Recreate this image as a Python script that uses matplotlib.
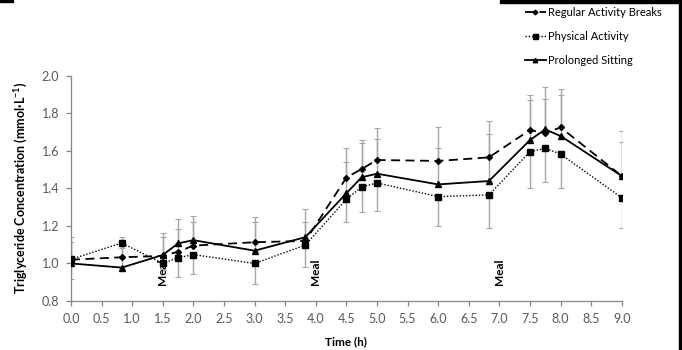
import matplotlib
matplotlib.use("Agg")
import matplotlib.pyplot as plt
from matplotlib.patches import Rectangle

plt.rcParams['font.family'] = ['Lato', 'DejaVu Sans']
plt.rcParams['mathtext.default'] = 'regular'

time = [0.0, 0.83, 1.5, 1.75, 2.0, 3.0, 3.83, 4.5, 4.75, 5.0, 6.0, 6.83, 7.5, 7.75, 8.0, 9.0]

rab = [1.02, 1.033, 1.04, 1.063, 1.095, 1.113, 1.12, 1.457, 1.503, 1.551, 1.546, 1.565, 1.711, 1.693, 1.725, 1.466]
rab_up = [1.143, 1.14, 1.16, 1.185, 1.22, 1.249, 1.289, 1.613, 1.658, 1.723, 1.728, 1.759, 1.897, 1.876, 1.928, 1.707]

pa = [1.022, 1.109, 1.0, 1.031, 1.047, 1.0, 1.098, 1.342, 1.407, 1.429, 1.356, 1.365, 1.595, 1.613, 1.583, 1.35]
pa_low = [0.919, 1.08, 0.97, 0.93, 0.942, 0.892, 0.98, 1.223, 1.273, 1.28, 1.201, 1.19, 1.404, 1.432, 1.404, 1.19]

ps = [1.0, 0.978, 1.045, 1.107, 1.124, 1.068, 1.14, 1.374, 1.459, 1.478, 1.421, 1.439, 1.657, 1.714, 1.679, 1.466]
ps_up = [1.114, 1.125, 1.14, 1.235, 1.255, 1.219, 1.223, 1.539, 1.64, 1.663, 1.616, 1.688, 1.871, 1.938, 1.897, 1.647]

meal_x = [1.5, 4.0, 7.0]
labels = ['Regular Activity Breaks', 'Physical Activity', 'Prolonged Sitting']

fig = plt.figure(figsize=(6.82, 3.5), dpi=100)
ax = fig.add_axes([0.1041, 0.14, 0.8075, 0.6437])

ecol = '#a6a6a6'
ax.errorbar(time, rab, yerr=[[0]*len(rab), [u - v for u, v in zip(rab_up, rab)]],
            fmt='none', ecolor=ecol, elinewidth=1, capsize=2.2, capthick=0.8, zorder=1)
ax.errorbar(time, ps, yerr=[[0]*len(ps), [u - v for u, v in zip(ps_up, ps)]],
            fmt='none', ecolor=ecol, elinewidth=1, capsize=2.2, capthick=0.8, zorder=1)
ax.errorbar(time, pa, yerr=[[v - l for v, l in zip(pa, pa_low)], [0]*len(pa)],
            fmt='none', ecolor=ecol, elinewidth=1, capsize=2.2, capthick=0.8, zorder=1)

l1, = ax.plot(time, rab, color='black', lw=1.3, dashes=(5, 3), marker='D', ms=3.0, zorder=3)
l2, = ax.plot(time, pa, color='black', lw=1.0, linestyle=(0, (1, 1.3)), marker='s', ms=4.5, zorder=3)
l3, = ax.plot(time, ps, color='black', lw=1.3, linestyle='-', marker='^', ms=4, zorder=3)

for mx in meal_x:
    ax.text(mx, 0.883, 'Meal', rotation=90, ha='center', va='bottom',
            fontsize=8.5, fontweight='bold', color='black')

ax.set_xlim(0, 9)
ax.set_ylim(0.8, 2.0)
ax.set_xticks([i * 0.5 for i in range(19)])
ax.set_xticklabels([f'{i * 0.5:.1f}' for i in range(19)])
ax.set_yticks([0.8, 1.0, 1.2, 1.4, 1.6, 1.8, 2.0])
ax.set_yticklabels(['0.8', '1.0', '1.2', '1.4', '1.6', '1.8', '2.0'])

for s in ['top', 'right']:
    ax.spines[s].set_visible(False)
for s in ['left', 'bottom']:
    ax.spines[s].set_color('#868686')
    ax.spines[s].set_linewidth(0.9)
ax.tick_params(axis='both', colors='#868686', length=3.5, width=0.9,
               labelsize=9, labelcolor='#595959', pad=5)

ax.set_xlabel('Time (h)', fontsize=8.5, fontweight='bold', labelpad=8)
ax.set_ylabel(r'Triglyceride Concentration (mmol·L$^{-1}$)', fontsize=9,
              fontweight='bold', labelpad=8)

fig.legend([l1, l2, l3], labels, loc='upper left', bbox_to_anchor=(0.755, 1.01),
           frameon=False, fontsize=8, handlelength=1.9, handletextpad=0.2,
           labelspacing=1.2, markerscale=0.8)

# black crop borders of the source image
fig.patches.append(Rectangle((500 / 682, 1 - 3 / 350), 182 / 682, 3 / 350,
                             transform=fig.transFigure, color='black', zorder=10))
fig.patches.append(Rectangle((679 / 682, 0), 3 / 682, 1,
                             transform=fig.transFigure, color='black', zorder=10))
fig.patches.append(Rectangle((0, 1 - 2 / 350), 13 / 682, 2 / 350,
                             transform=fig.transFigure, color='black', zorder=10))

fig.savefig('out.png', dpi=100)
